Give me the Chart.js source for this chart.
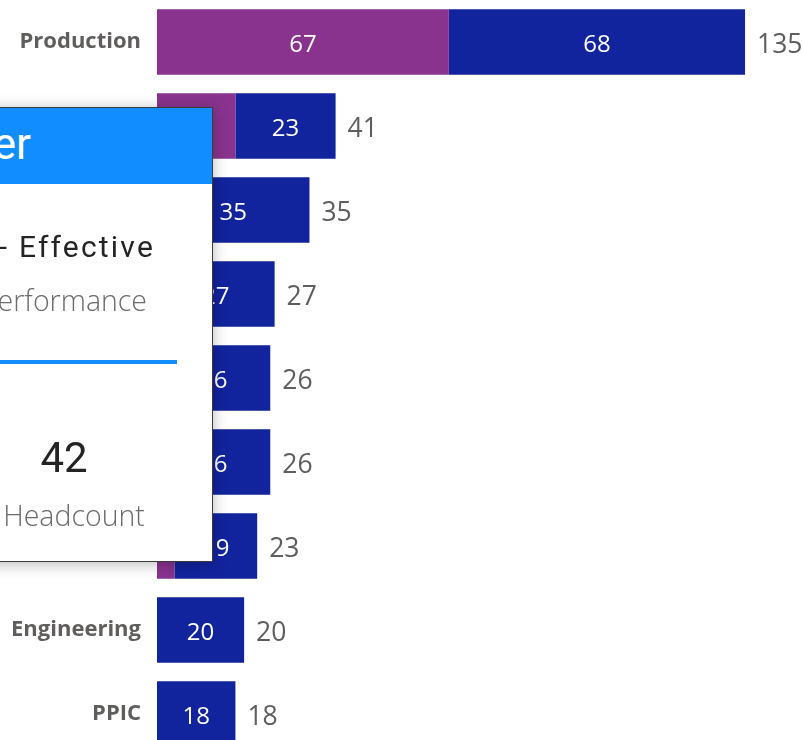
<!DOCTYPE html>
<html>
<head>
<meta charset="utf-8">
<script src="https://cdn.jsdelivr.net/npm/chart.js@4.4.1/dist/chart.umd.min.js"></script>
<style>
    html, body { margin: 0; padding: 0; background: #fff; overflow: hidden; }
    #wrap { position: relative; width: 803px; height: 740px; overflow: hidden; }
    #chart { position: absolute; left: 0; top: 0; }
    .tip-card {
        position: absolute; left: -200px; top: 107px; width: 411px; height: 453px;
        background: #fff; border: 1.5px solid #3b3b3b;
        box-shadow: 0 2px 14px rgba(0, 0, 0, 0.28);
        font-family: Roboto, "Noto Sans", sans-serif;
    }
    .tip-head { position: absolute; left: 0; top: 0; right: 0; height: 76px; background: #118DFF; }
    .tip-line { position: absolute; white-space: nowrap; text-align: right; }
</style>
</head>
<body>
<div id="wrap">
    <canvas id="chart" width="803" height="756"></canvas>
    <div class="tip-card">
        <div class="tip-head">
            <div class="tip-line" style="right: 181px; top: 10px; font-size: 44px; color: #fff;">er</div>
        </div>
        <div class="tip-line" style="right: 57px; top: 121px; font-size: 30px; letter-spacing: 2.2px; color: #252423;">- Effective</div>
        <div class="tip-line" style="right: 65px; top: 173px; font-size: 28.5px; color: #6b6b6b; font-family: 'Open Sans', sans-serif; font-weight: 300;">Performance</div>
        <div style="position: absolute; left: 0; width: 376px; top: 252px; height: 4px; background: #118DFF;"></div>
        <div class="tip-line" style="left: 200px; width: 126px; text-align: center; top: 325px; font-size: 42px; color: #252423;">42</div>
        <div class="tip-line" style="left: 200px; width: 146px; text-align: center; top: 388px; font-size: 28.5px; color: #6b6b6b; font-family: 'Open Sans', sans-serif; font-weight: 300;">Headcount</div>
    </div>
</div>

<script>
// Headcount per department (two stacked groups)
const departments = ['Production', '', '', '', '', '', '', 'Engineering', 'PPIC'];
const groupAValues = [67, 18, 0, 0, 0, 0, 4, 0, 0];
const groupBValues = [68, 23, 35, 27, 26, 26, 19, 20, 18];
const groupLabels = ['Group A', 'Group B'];

const purple = '#89338E';
const blue = '#12239E';
const labelFont = '"Open Sans", "Noto Sans", sans-serif';

// Draws the white values inside each bar segment and the grey totals at the end
const barLabelsPlugin = {
    id: 'barLabels',
    afterDatasetsDraw(chart) {
        const ctx = chart.ctx;
        ctx.save();
        ctx.textBaseline = 'middle';

        // inside labels
        ctx.font = '24px ' + labelFont;
        ctx.fillStyle = '#ffffff';
        ctx.textAlign = 'center';
        chart.data.datasets.forEach((ds, di) => {
            const meta = chart.getDatasetMeta(di);
            meta.data.forEach((bar, i) => {
                const v = ds.data[i];
                if (!v) return;
                const w = Math.abs(bar.x - bar.base);
                const txt = String(v);
                if (ctx.measureText(txt).width + 6 > w) return;
                ctx.fillText(txt, (bar.x + bar.base) / 2, bar.y + 3);
            });
        });

        // totals
        ctx.font = '26.5px ' + labelFont;
        ctx.fillStyle = '#605E5C';
        ctx.textAlign = 'left';
        const lastMeta = chart.getDatasetMeta(chart.data.datasets.length - 1);
        departments.forEach((_, i) => {
            const total = groupAValues[i] + groupBValues[i];
            const bar = lastMeta.data[i];
            ctx.fillText(String(total), bar.x + 12, bar.y + 3);
        });
        ctx.restore();
    }
};

new Chart(document.getElementById('chart').getContext('2d'), {
    type: 'bar',
    data: {
        labels: departments,
        datasets: [{
            label: groupLabels[0],
            data: groupAValues,
            backgroundColor: purple,
            categoryPercentage: 1,
            barPercentage: 0.78
        }, {
            label: groupLabels[1],
            data: groupBValues,
            backgroundColor: blue,
            categoryPercentage: 1,
            barPercentage: 0.78
        }]
    },
    options: {
        indexAxis: 'y',
        responsive: false,
        animation: false,
        layout: { padding: 0 },
        plugins: {
            legend: { display: false },
            tooltip: { enabled: false }
        },
        scales: {
            x: {
                stacked: true,
                display: false,
                min: 0,
                max: 148.3
            },
            y: {
                stacked: true,
                grid: { display: false, drawTicks: false },
                border: { display: false },
                ticks: {
                    padding: 16,
                    color: '#605E5C',
                    font: { family: labelFont, size: 22, weight: 'bold' }
                },
                afterFit(scale) {
                    scale.width = 157;
                    // tick padding would otherwise shrink the plot vertically
                    scale.paddingTop = 0;
                    scale.paddingBottom = 0;
                }
            }
        }
    },
    plugins: [barLabelsPlugin]
});
</script>
</body>
</html>
